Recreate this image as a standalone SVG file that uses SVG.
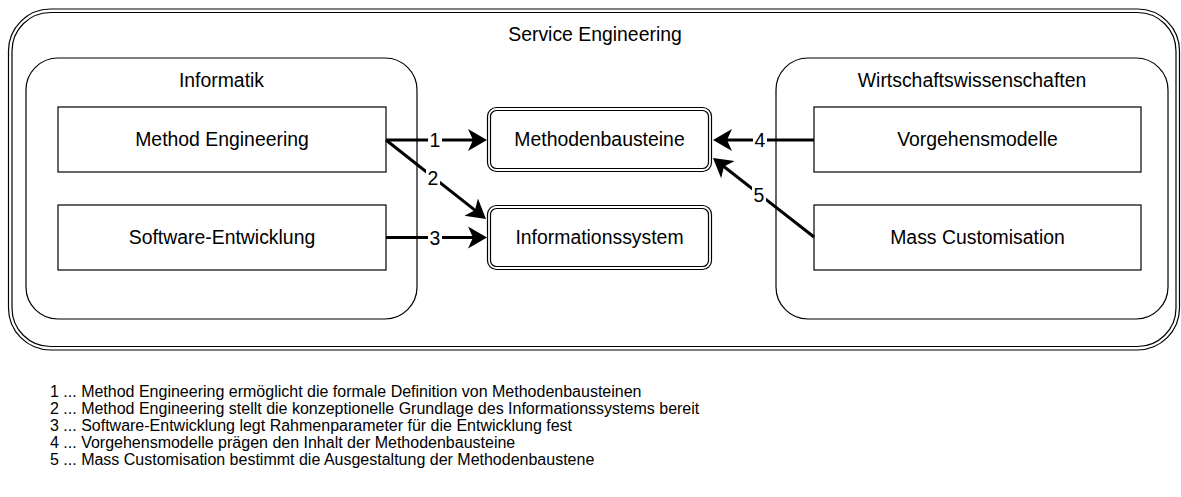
<svg xmlns="http://www.w3.org/2000/svg" width="1181" height="497" viewBox="0 0 1181 497">
  <style>
    text { font-family: "Liberation Sans", Arial, sans-serif; fill: #000; }
    .lbl { font-size: 19.4px; text-anchor: middle; }
    .leg { font-size: 16px; }
    .box { fill: #fff; stroke: #000; stroke-width: 1.2; }
    .cont { fill: none; stroke: #000; stroke-width: 1.2; }
    .edge { fill: none; stroke: #000; stroke-width: 3; }
    .elbg { fill: #fff; }
  </style>
  <defs>
    <marker id="arr" markerUnits="userSpaceOnUse" markerWidth="20" markerHeight="24" refX="6" refY="11" orient="auto" viewBox="0 0 20 22">
      <path d="M0,0 L19,11 L0,22 L5,11 Z" fill="#000"/>
    </marker>
  </defs>
  <rect width="1181" height="497" fill="#fff"/>

  <g id="service-engineering">
    <rect class="cont" x="8.5" y="9" width="1171" height="341" rx="42"/>
    <rect class="cont" x="12" y="12.5" width="1164" height="334" rx="38.5"/>
    <text class="lbl" x="595" y="41">Service Engineering</text>
  </g>

  <g id="informatik">
    <rect class="cont" x="26" y="58" width="391" height="261" rx="32"/>
    <text class="lbl" x="221.5" y="87">Informatik</text>
  </g>

  <g id="wirtschaftswissenschaften">
    <rect class="cont" x="776" y="58" width="392" height="261" rx="32"/>
    <text class="lbl" x="972" y="87">Wirtschaftswissenschaften</text>
  </g>

  <g id="method-engineering">
    <rect class="box" x="58" y="107" width="328" height="65"/>
    <text class="lbl" x="222" y="146">Method Engineering</text>
  </g>

  <g id="software-entwicklung">
    <rect class="box" x="58" y="205" width="328" height="65"/>
    <text class="lbl" x="222" y="244">Software-Entwicklung</text>
  </g>

  <g id="vorgehensmodelle">
    <rect class="box" x="814" y="107" width="327" height="65"/>
    <text class="lbl" x="977.5" y="146">Vorgehensmodelle</text>
  </g>

  <g id="mass-customisation">
    <rect class="box" x="814" y="205" width="327" height="65"/>
    <text class="lbl" x="977.5" y="244">Mass Customisation</text>
  </g>

  <g id="methodenbausteine">
    <rect class="box" x="487.5" y="107.5" width="224" height="64" rx="9"/>
    <rect class="cont" x="490.5" y="110.5" width="218" height="58" rx="6"/>
    <text class="lbl" x="599.5" y="146">Methodenbausteine</text>
  </g>

  <g id="informationssystem">
    <rect class="box" x="487.5" y="205.5" width="224" height="64" rx="9"/>
    <rect class="cont" x="490.5" y="208.5" width="218" height="58" rx="6"/>
    <text class="lbl" x="599.5" y="244">Informationssystem</text>
  </g>

  <g id="connectors">
    <line class="edge" x1="386" y1="140" x2="474" y2="140" marker-end="url(#arr)"/>
    <line class="edge" x1="386" y1="140" x2="475.8" y2="210.9" marker-end="url(#arr)"/>
    <line class="edge" x1="386" y1="237.5" x2="474" y2="237.5" marker-end="url(#arr)"/>
    <line class="edge" x1="814" y1="140" x2="726" y2="140" marker-end="url(#arr)"/>
    <line class="edge" x1="814" y1="237" x2="723.2" y2="166" marker-end="url(#arr)"/>
    <rect class="elbg" x="428" y="130" width="14" height="20"/>
    <text class="lbl" x="435" y="147">1</text>
    <rect class="elbg" x="426" y="168" width="14" height="20"/>
    <text class="lbl" x="433" y="185">2</text>
    <rect class="elbg" x="428" y="227.5" width="14" height="20"/>
    <text class="lbl" x="435" y="244.5">3</text>
    <rect class="elbg" x="753" y="130" width="14" height="20"/>
    <text class="lbl" x="760" y="147">4</text>
    <rect class="elbg" x="752" y="185" width="14" height="20"/>
    <text class="lbl" x="759" y="202">5</text>
  </g>

  <g id="legend">
    <text class="leg" x="50" y="397">1 ... Method Engineering ermöglicht die formale Definition von Methodenbausteinen</text>
    <text class="leg" x="50" y="414">2 ... Method Engineering stellt die konzeptionelle Grundlage des Informationssystems bereit</text>
    <text class="leg" x="50" y="431">3 ... Software-Entwicklung legt Rahmenparameter für die Entwicklung fest</text>
    <text class="leg" x="50" y="448">4 ... Vorgehensmodelle prägen den Inhalt der Methodenbausteine</text>
    <text class="leg" x="50" y="465">5 ... Mass Customisation bestimmt die Ausgestaltung der Methodenbaustene</text>
  </g>
</svg>
